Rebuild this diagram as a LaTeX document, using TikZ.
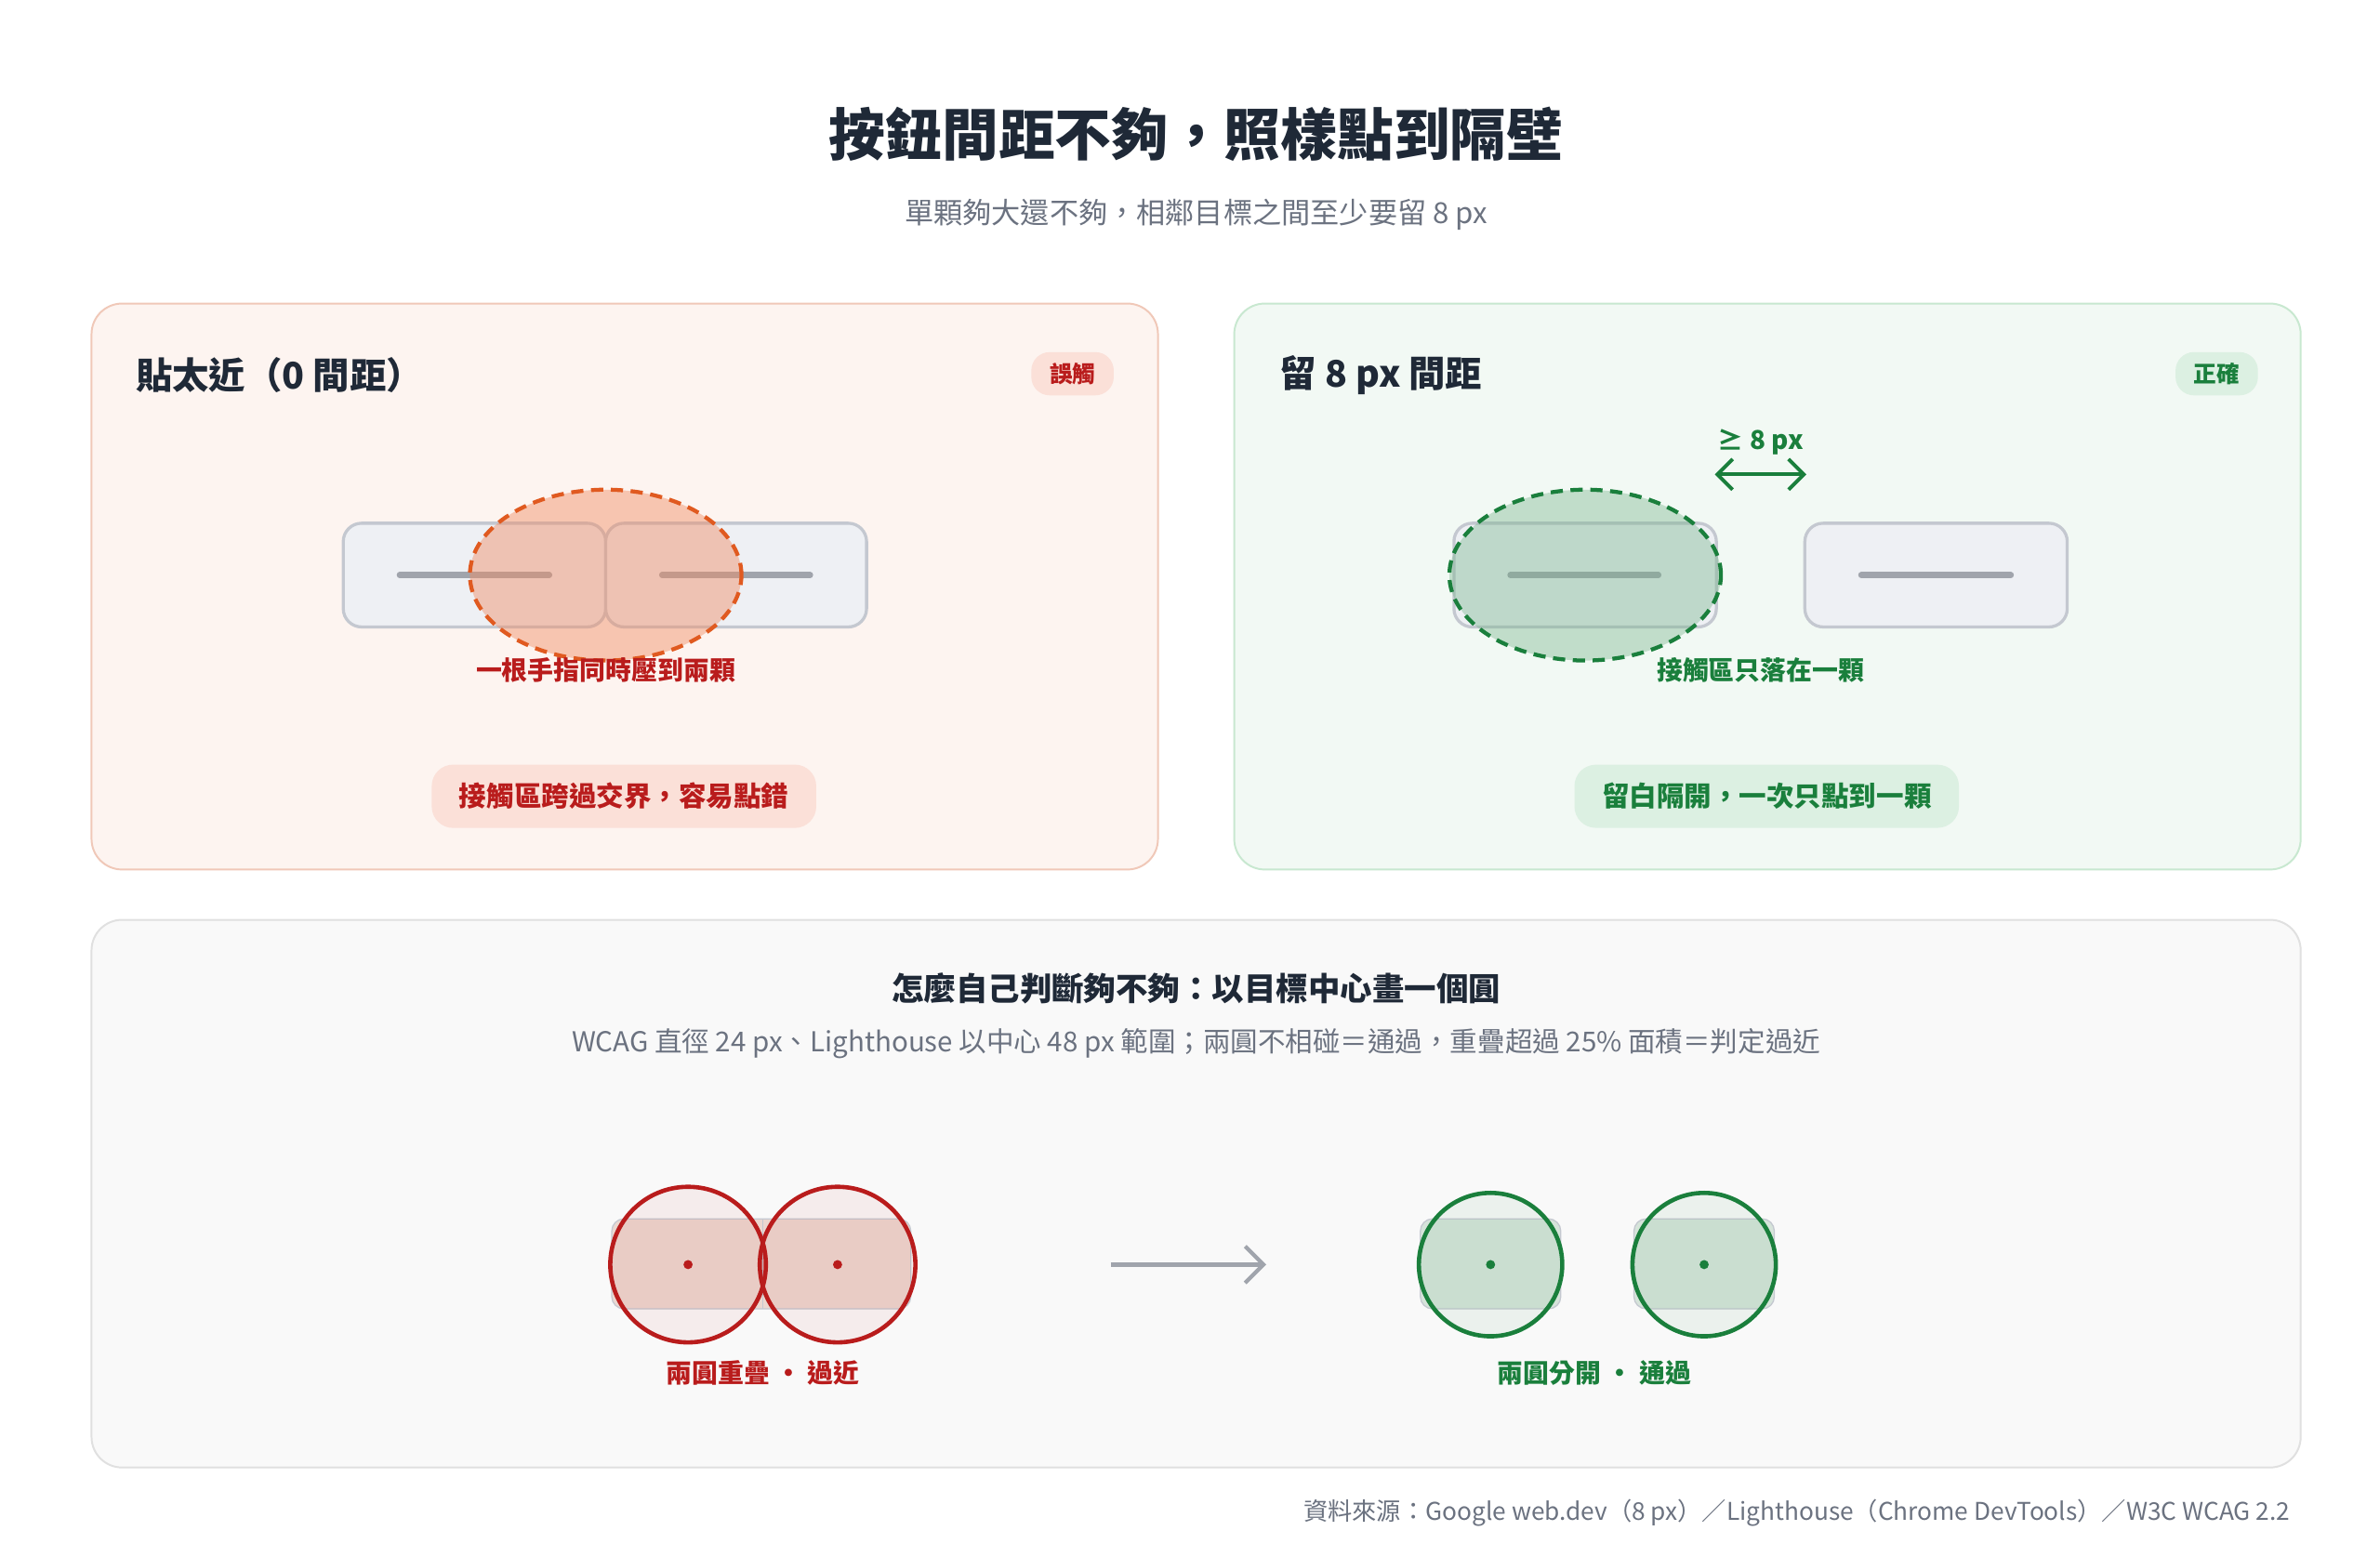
\documentclass[tikz,border=0pt]{standalone}
\usepackage{fontspec}
\setmainfont{Noto Sans CJK TC}
\usepackage{tikz}
\usetikzlibrary{arrows.meta,positioning,shapes.geometric}
\definecolor{ink}{HTML}{1F2937}
\definecolor{mute}{HTML}{6B7280}
\definecolor{bad}{HTML}{B91C1C}
\definecolor{badfill}{HTML}{FDF4F0}
\definecolor{badline}{HTML}{F0C8B8}
\definecolor{badpill}{HTML}{FBE0D8}
\definecolor{good}{HTML}{1A7F3C}
\definecolor{goodfill}{HTML}{F2F9F4}
\definecolor{goodline}{HTML}{C8E8D0}
\definecolor{goodpill}{HTML}{DCF0E2}
\definecolor{btn}{HTML}{EEF0F4}
\definecolor{btnline}{HTML}{C4C8D0}
\definecolor{barcol}{HTML}{A0A4AC}
\newcommand{\fs}[1]{\fontsize{#1}{#1}\selectfont}
\begin{document}
\begin{tikzpicture}[x=0.5pt,y=-0.5pt,
  panel/.style={rounded corners=10pt,line width=0.6pt},
  button/.style={rounded corners=6pt,fill=btn,draw=btnline,line width=1pt},
  barline/.style={draw=barcol,line width=2pt,line cap=round},
  pill/.style={rounded corners=7pt,inner xsep=9pt,inner ysep=6pt,font=\fs{9}\bfseries},
  tag/.style={rounded corners=6pt,inner xsep=6pt,inner ysep=3.5pt,font=\fs{7.5}\bfseries},
  ptitle/.style={anchor=west,font=\fs{12}\bfseries,text=ink},
  lab/.style={font=\fs{8.5}\bfseries},
  touch/.style={line width=1.3pt,dash pattern=on 4pt off 2.5pt}]
\useasboundingbox[fill=white] (0,0) rectangle (1560,1012);
% heading
\node[font=\fs{18.5}\bfseries,text=ink] (title) at (784,88) {按鈕間距不夠，照樣點到隔壁};
\node[font=\fs{9.5},text=mute] (sub) at (784,141) {單顆夠大還不夠，相鄰目標之間至少要留 8 px};
% left panel
\draw[panel,fill=badfill,draw=badline] (60,199) rectangle (759,570);
\node[ptitle] (ltitle) at (82,246) {貼太近（0 間距）};
\node[tag,fill=badpill,text=bad] (ltag) at (703,245) {誤觸};
\draw[button] (225,343) rectangle (397,411);
\draw[button] (397,343) rectangle (568,411);
\draw[barline] (262,377) -- (360,377);
\draw[barline] (434,377) -- (531,377);
\node[ellipse,minimum width=89pt,minimum height=56pt,fill={rgb,255:red,240;green,140;blue,100},fill opacity=0.45,draw={rgb,255:red,224;green,90;blue,32},touch] (ltouch) at (397,377) {};
\node[lab,text=bad] (llab) at (397,439) {一根手指同時壓到兩顆};
\node[pill,fill=badpill,text=bad] (lpill) at (409,522) {接觸區跨過交界，容易點錯};
% right panel
\draw[panel,fill=goodfill,draw=goodline] (809,199) rectangle (1508,570);
\node[ptitle] (rtitle) at (832,246) {留 8 px 間距};
\node[tag,fill=goodpill,text=good] (rtag) at (1453,245) {正確};
\node[lab,text=good] (gap) at (1154,290) {≥ 8 px};
\coordinate (ga) at (1124,311);
\coordinate (gb) at (1184,311);
\draw[good,line width=1.2pt,{Straight Barb[length=5pt]}-{Straight Barb[length=5pt]}] (ga) -- (gb);
\draw[button] (953,343) rectangle (1125,411);
\draw[button] (1183,343) rectangle (1355,411);
\draw[barline] (990,377) -- (1087,377);
\draw[barline] (1220,377) -- (1318,377);
\node[ellipse,minimum width=89pt,minimum height=56pt,fill={rgb,255:red,120;green,180;blue,140},fill opacity=0.4,draw=good,touch] (rtouch) at (1039,377) {};
\node[lab,text=good] (rlab) at (1154,439) {接觸區只落在一顆};
\node[pill,fill=goodpill,text=good] (rpill) at (1158,522) {留白隔開，一次只點到一顆};
% bottom panel
\draw[panel,fill={rgb,255:red,249;green,249;blue,249},draw={rgb,255:red,224;green,224;blue,224}] (60,603) rectangle (1508,962);
\node[font=\fs{10.5}\bfseries,text=ink] (btitle) at (784,648) {怎麼自己判斷夠不夠：以目標中心畫一個圓};
\node[font=\fs{9},text=mute] (bsub) at (784,684) {WCAG 直徑 24 px、Lighthouse 以中心 48 px 範圍；兩圓不相碰＝通過，重疊超過 25\% 面積＝判定過近};
\draw[rounded corners=4pt,fill={rgb,255:red,236;green,216;blue,208},draw=btnline] (401,799) rectangle (597,858);
\draw[btnline] (500,799) -- (500,858);
\foreach \cx/\nm in {451/ra,549/rb}{
  \node[circle,minimum size=51pt,draw=bad,line width=1.4pt,fill=bad,fill opacity=0.06,draw opacity=1] (\nm) at (\cx,829) {};
  \fill[bad] (\cx,829) circle (1.5pt);
}
\node[lab,text=bad] (rlabel) at (500,900) {兩圓重疊 · 過近};
\coordinate (aa) at (728,829);
\coordinate (ab) at (830,829);
\draw[draw=barcol,line width=1.3pt,-{Straight Barb[length=6pt]}] (aa) -- (ab);
\foreach \cx/\nm in {977/ga1,1117/gb1}{
  \draw[rounded corners=4pt,fill={rgb,255:red,214;green,228;blue,218},draw=btnline] (\cx-46,799) rectangle (\cx+46,858);
  \node[circle,minimum size=47pt,draw=good,line width=1.4pt,fill=good,fill opacity=0.06,draw opacity=1] (\nm) at (\cx,829) {};
  \fill[good] (\cx,829) circle (1.5pt);
}
\node[lab,text=good] (glabel) at (1045,900) {兩圓分開 · 通過};
% source
\node[anchor=east,font=\fs{8},text=mute] (src) at (1508,992) {資料來源：Google web.dev（8 px）／Lighthouse（Chrome DevTools）／W3C WCAG 2.2};
\end{tikzpicture}
\end{document}
